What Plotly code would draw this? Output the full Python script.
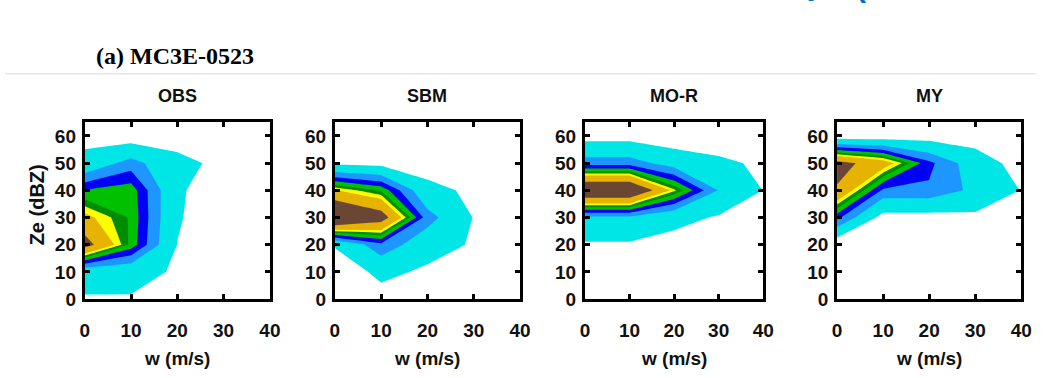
import plotly.graph_objects as go

# ---------------- data (grid: w columns, Ze rows) ----------------
w = [0, 10, 20, 30, 40]                 # vertical velocity bins (m/s)
ze = [0, 10, 20, 30, 40, 50, 60]        # reflectivity bins (dBZ)
levels = [2, 5, 7, 8.6, 10, 11, 12, 15]  # contour levels (frequency)
level_colors = ['#00E6E6', '#1E96FF', '#0000F5', '#00C000',
                '#008C00', '#FFFF00', '#E6B400', '#6B4634']
panel_names = ['OBS', 'SBM', 'MO-R', 'MY']

obs = [
    [1.8, 1.8, 0.5, 0.0, 0.0],
    [3.0, 2.93, 1.7, 0.0, 0.0],
    [16.3, 9.6, 1.95, 0.0, 0.0],
    [12.6, 9.8, 2.3, 0.0, 0.0],
    [8.7, 9.5, 2.5, 0.0, 0.0],
    [2.84, 6.0, 2.6, 1.5, 0.0],
    [1.2, 0.5, 1.1, 0.0, 0.0],
]
sbm = [
    [0.0, 0.8, 0.0, 0.0, 0.0],
    [0.0, 2.8, 1.5, 0.5, 0.0],
    [2.3, 6.5, 3.3, 1.7, 0.0],
    [20.0, 16.7, 6.0, 1.9, 0.5],
    [12.1, 9.8, 2.8, 1.5, 0.3],
    [1.5, 1.2, 0.8, 0.3, 0.0],
    [0.0, 0.0, 0.0, 0.0, 0.0],
]
mor = [
    [0.0, 0.0, 0.0, 0.0, 0.0],
    [0.0, 0.0, 0.0, 0.0, 0.0],
    [1.7, 1.7, 1.1, 0.5, 0.0],
    [4.5, 4.5, 2.8, 1.75, 0.5],
    [19.0, 19.0, 11.3, 4.9, 1.95],
    [6.1, 6.1, 3.8, 2.6, 1.5],
    [1.0, 1.0, 0.4, 0.3, 0.0],
]
my = [
    [0.0, 0.0, 0.0, 0.0, 0.0],
    [0.0, 0.0, 0.0, 0.0, 0.0],
    [0.0, 0.0, 0.0, 0.0, 0.0],
    [7.6, 1.0, 1.0, 1.4, 0.5],
    [14.7, 6.66, 6.7, 4.4, 1.9],
    [16.1, 13.4, 7.5, 3.5, 0.9],
    [0.4, 0.4, 0.8, 0.7, 0.0],
]
panel_data = [obs, sbm, mor, my]

xticks = [0, 10, 20, 30, 40]
yticks = [0, 10, 20, 30, 40, 50, 60]

# ---------------- layout geometry (pixels) ----------------
W, H = 1047, 378
x_px = [(81, 269), (335, 523), (589, 770), (845, 1032)]
y_px = (126, 308)   # top, bottom


def px_x(p):
    return p / W


def px_y(p):
    return 1 - p / H


fig = go.Figure()
tick_font = dict(family='Liberation Sans, Arial', size=19, color='#111111', weight='bold')

for i, (name, Z) in enumerate(zip(panel_names, panel_data)):
    sfx = '' if i == 0 else str(i + 1)
    for lev, col in zip(levels, level_colors):
        fig.add_trace(go.Contour(
            x=w, y=ze, z=Z,
            contours=dict(start=lev, end=lev, size=1, coloring='fill', showlines=False),
            line=dict(width=0, smoothing=0),
            colorscale=[[0, 'rgba(255,255,255,0)'], [1, col]],
            showscale=False, hoverinfo='skip',
            xaxis='x' + sfx, yaxis='y' + sfx,
        ))
    x0, x1 = x_px[i]
    fig.layout['xaxis' + sfx] = dict(
        domain=[px_x(x0), px_x(x1)], range=[0, 40], anchor='y' + sfx,
        tickvals=xticks, ticks='inside', ticklen=5, tickwidth=3, tickcolor='black',
        showline=True, linewidth=3, linecolor='black', mirror='ticks',
        showgrid=False, zeroline=False, tickfont=tick_font, ticklabelstandoff=12,
    )
    fig.layout['yaxis' + sfx] = dict(
        domain=[px_y(y_px[1]), px_y(y_px[0])], range=[0, 65], anchor='x' + sfx,
        tickvals=yticks, ticks='inside', ticklen=5, tickwidth=3, tickcolor='black',
        showline=True, linewidth=3, linecolor='black', mirror='ticks',
        showgrid=False, zeroline=False, tickfont=tick_font, ticklabelstandoff=2,
    )
    cx = (x0 + x1) / 2
    fig.add_annotation(text=name, x=px_x(cx), y=px_y(99), xref='paper', yref='paper',
                       showarrow=False, xanchor='center', yanchor='middle',
                       font=dict(family='Liberation Sans, Arial', size=18, color='#111111', weight='bold'))
    fig.add_annotation(text='w (m/s)', x=px_x(cx), y=px_y(356), xref='paper', yref='paper',
                       showarrow=False, xanchor='center', yanchor='top',
                       font=dict(family='Liberation Sans, Arial', size=19, color='#111111', weight='bold'))

fig.add_annotation(text='Ze (dBZ)', x=px_x(32), y=px_y(211), xref='paper', yref='paper',
                   showarrow=False, textangle=-90, xanchor='center', yanchor='middle',
                   font=dict(family='Liberation Sans, Arial', size=20, color='#111111', weight='bold'))
fig.add_annotation(text='(a) MC3E-0523', x=px_x(90), y=px_y(58), xref='paper', yref='paper',
                   showarrow=False, xanchor='left', yanchor='middle',
                   font=dict(family='Liberation Serif, Times New Roman', size=24, color='#000000', weight='bold'))
# fragments of blue text cut off at the top edge
fig.add_annotation(text='y', x=px_x(823), y=1, xref='paper', yref='paper', yshift=-3,
                   showarrow=False, xanchor='center', yanchor='bottom',
                   font=dict(family='Liberation Sans, Arial', size=30, color='#0070C0', weight='bold'))
fig.add_annotation(text='(', x=px_x(869), y=1, xref='paper', yref='paper', yshift=-5,
                   showarrow=False, xanchor='center', yanchor='bottom',
                   font=dict(family='Liberation Sans, Arial', size=30, color='#0070C0', weight='bold'))

fig.add_shape(type='line', xref='paper', yref='paper', x0=0, x1=1,
              y0=px_y(76), y1=px_y(76), line=dict(color='#d8d8d8', width=1))

fig.update_layout(width=W, height=H, margin=dict(l=0, r=0, t=0, b=0),
                  paper_bgcolor='white', plot_bgcolor='white', showlegend=False)

fig.write_html('out.html',
               post_script="document.body.style.margin='0px';document.body.style.padding='0px';"
                           "document.body.style.overflow='hidden';")
